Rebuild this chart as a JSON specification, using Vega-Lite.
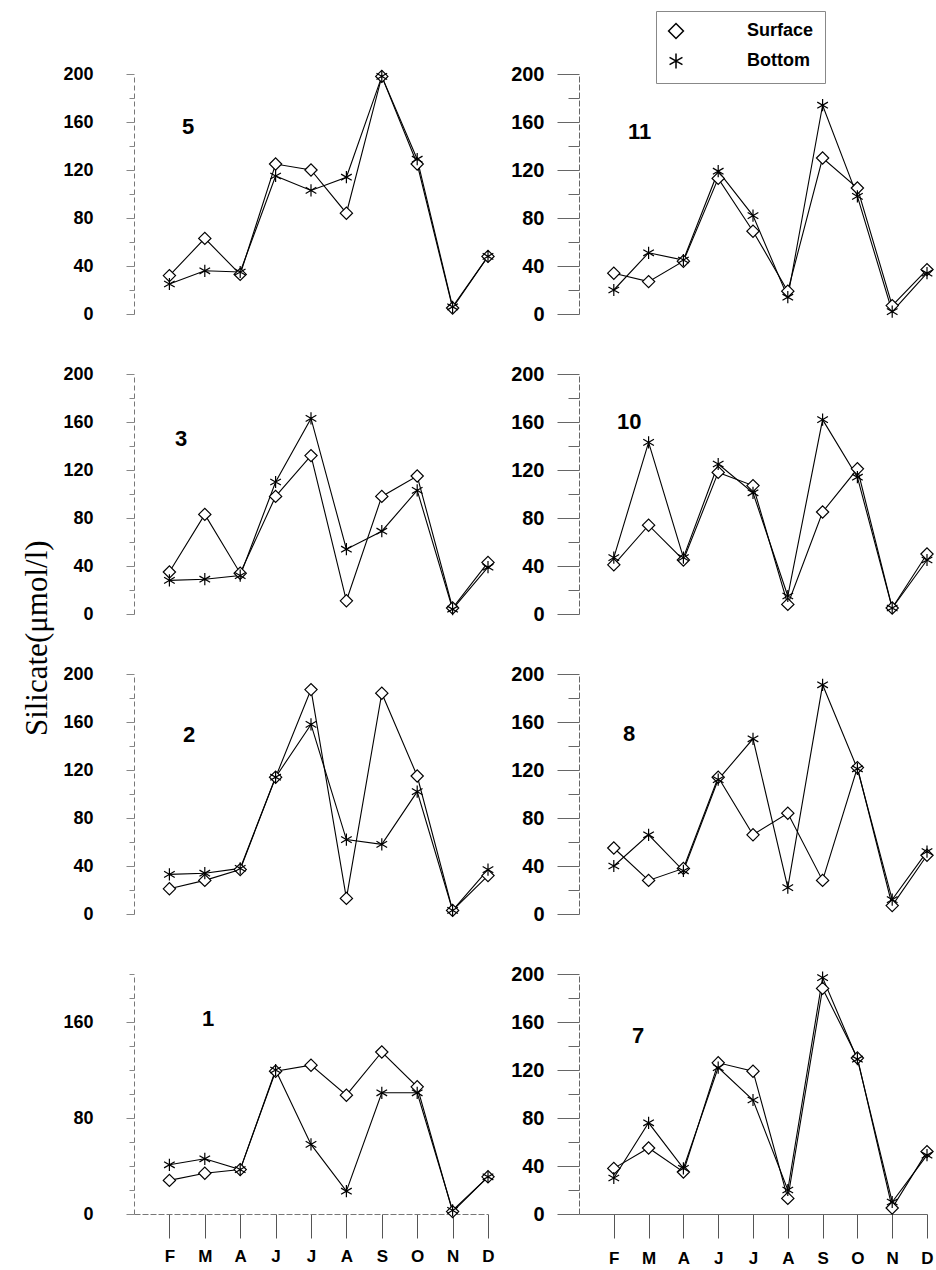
{
  "$schema": "https://vega.github.io/schema/vega-lite/v6.json",
  "padding": {"left": 21, "top": 10, "right": 0, "bottom": 0},
  "background": "white",
  "title": {"text": "Silicate(μmol/l)", "orient": "left", "anchor": "middle", "frame": "bounds", "font": "Liberation Serif", "fontSize": 31, "fontWeight": "normal", "offset": -22, "baseline": "bottom", "dx": 0, "dy": 0, "color": "black"},
  "config": {
    "view": {"stroke": null},
    "title": {"anchor": "start", "frame": "group", "font": "Liberation Sans", "fontSize": 22, "fontWeight": "bold", "baseline": "top", "offset": 0, "color": "black"},
    "axis": {"labelFont": "Liberation Sans", "labelFontWeight": "bold", "labelColor": "black", "grid": false, "title": null},
    "legend": {"labelFont": "Liberation Sans", "labelFontWeight": "bold", "labelColor": "black"}
  },
  "data": {"values": [
    {"station":"5","month":"Feb","depth":"Surface","value":32},{"station":"5","month":"Mar","depth":"Surface","value":63},{"station":"5","month":"Apr","depth":"Surface","value":33},{"station":"5","month":"Jun","depth":"Surface","value":125},{"station":"5","month":"Jul","depth":"Surface","value":120},{"station":"5","month":"Aug","depth":"Surface","value":84},{"station":"5","month":"Sep","depth":"Surface","value":198},{"station":"5","month":"Oct","depth":"Surface","value":125},{"station":"5","month":"Nov","depth":"Surface","value":5},{"station":"5","month":"Dec","depth":"Surface","value":48},
    {"station":"11","month":"Feb","depth":"Surface","value":34},{"station":"11","month":"Mar","depth":"Surface","value":27},{"station":"11","month":"Apr","depth":"Surface","value":44},{"station":"11","month":"Jun","depth":"Surface","value":113},{"station":"11","month":"Jul","depth":"Surface","value":69},{"station":"11","month":"Aug","depth":"Surface","value":19},{"station":"11","month":"Sep","depth":"Surface","value":130},{"station":"11","month":"Oct","depth":"Surface","value":105},{"station":"11","month":"Nov","depth":"Surface","value":7},{"station":"11","month":"Dec","depth":"Surface","value":37},
    {"station":"3","month":"Feb","depth":"Surface","value":35},{"station":"3","month":"Mar","depth":"Surface","value":83},{"station":"3","month":"Apr","depth":"Surface","value":34},{"station":"3","month":"Jun","depth":"Surface","value":98},{"station":"3","month":"Jul","depth":"Surface","value":132},{"station":"3","month":"Aug","depth":"Surface","value":11},{"station":"3","month":"Sep","depth":"Surface","value":98},{"station":"3","month":"Oct","depth":"Surface","value":115},{"station":"3","month":"Nov","depth":"Surface","value":5},{"station":"3","month":"Dec","depth":"Surface","value":43},
    {"station":"10","month":"Feb","depth":"Surface","value":41},{"station":"10","month":"Mar","depth":"Surface","value":74},{"station":"10","month":"Apr","depth":"Surface","value":45},{"station":"10","month":"Jun","depth":"Surface","value":118},{"station":"10","month":"Jul","depth":"Surface","value":107},{"station":"10","month":"Aug","depth":"Surface","value":8},{"station":"10","month":"Sep","depth":"Surface","value":85},{"station":"10","month":"Oct","depth":"Surface","value":121},{"station":"10","month":"Nov","depth":"Surface","value":5},{"station":"10","month":"Dec","depth":"Surface","value":50},
    {"station":"2","month":"Feb","depth":"Surface","value":21},{"station":"2","month":"Mar","depth":"Surface","value":28},{"station":"2","month":"Apr","depth":"Surface","value":37},{"station":"2","month":"Jun","depth":"Surface","value":114},{"station":"2","month":"Jul","depth":"Surface","value":187},{"station":"2","month":"Aug","depth":"Surface","value":13},{"station":"2","month":"Sep","depth":"Surface","value":184},{"station":"2","month":"Oct","depth":"Surface","value":115},{"station":"2","month":"Nov","depth":"Surface","value":3},{"station":"2","month":"Dec","depth":"Surface","value":32},
    {"station":"8","month":"Feb","depth":"Surface","value":55},{"station":"8","month":"Mar","depth":"Surface","value":28},{"station":"8","month":"Apr","depth":"Surface","value":38},{"station":"8","month":"Jun","depth":"Surface","value":114},{"station":"8","month":"Jul","depth":"Surface","value":66},{"station":"8","month":"Aug","depth":"Surface","value":84},{"station":"8","month":"Sep","depth":"Surface","value":28},{"station":"8","month":"Oct","depth":"Surface","value":122},{"station":"8","month":"Nov","depth":"Surface","value":7},{"station":"8","month":"Dec","depth":"Surface","value":49},
    {"station":"1","month":"Feb","depth":"Surface","value":28},{"station":"1","month":"Mar","depth":"Surface","value":34},{"station":"1","month":"Apr","depth":"Surface","value":37},{"station":"1","month":"Jun","depth":"Surface","value":119},{"station":"1","month":"Jul","depth":"Surface","value":124},{"station":"1","month":"Aug","depth":"Surface","value":99},{"station":"1","month":"Sep","depth":"Surface","value":135},{"station":"1","month":"Oct","depth":"Surface","value":106},{"station":"1","month":"Nov","depth":"Surface","value":2},{"station":"1","month":"Dec","depth":"Surface","value":31},
    {"station":"7","month":"Feb","depth":"Surface","value":38},{"station":"7","month":"Mar","depth":"Surface","value":55},{"station":"7","month":"Apr","depth":"Surface","value":35},{"station":"7","month":"Jun","depth":"Surface","value":126},{"station":"7","month":"Jul","depth":"Surface","value":119},{"station":"7","month":"Aug","depth":"Surface","value":13},{"station":"7","month":"Sep","depth":"Surface","value":188},{"station":"7","month":"Oct","depth":"Surface","value":130},{"station":"7","month":"Nov","depth":"Surface","value":5},{"station":"7","month":"Dec","depth":"Surface","value":52},
    {"station":"5","month":"Feb","depth":"Bottom","value":25},{"station":"5","month":"Mar","depth":"Bottom","value":36},{"station":"5","month":"Apr","depth":"Bottom","value":35},{"station":"5","month":"Jun","depth":"Bottom","value":115},{"station":"5","month":"Jul","depth":"Bottom","value":103},{"station":"5","month":"Aug","depth":"Bottom","value":114},{"station":"5","month":"Sep","depth":"Bottom","value":198},{"station":"5","month":"Oct","depth":"Bottom","value":129},{"station":"5","month":"Nov","depth":"Bottom","value":6},{"station":"5","month":"Dec","depth":"Bottom","value":48},
    {"station":"11","month":"Feb","depth":"Bottom","value":20},{"station":"11","month":"Mar","depth":"Bottom","value":51},{"station":"11","month":"Apr","depth":"Bottom","value":45},{"station":"11","month":"Jun","depth":"Bottom","value":119},{"station":"11","month":"Jul","depth":"Bottom","value":82},{"station":"11","month":"Aug","depth":"Bottom","value":14},{"station":"11","month":"Sep","depth":"Bottom","value":174},{"station":"11","month":"Oct","depth":"Bottom","value":98},{"station":"11","month":"Nov","depth":"Bottom","value":2},{"station":"11","month":"Dec","depth":"Bottom","value":34},
    {"station":"3","month":"Feb","depth":"Bottom","value":28},{"station":"3","month":"Mar","depth":"Bottom","value":29},{"station":"3","month":"Apr","depth":"Bottom","value":32},{"station":"3","month":"Jun","depth":"Bottom","value":110},{"station":"3","month":"Jul","depth":"Bottom","value":163},{"station":"3","month":"Aug","depth":"Bottom","value":54},{"station":"3","month":"Sep","depth":"Bottom","value":69},{"station":"3","month":"Oct","depth":"Bottom","value":103},{"station":"3","month":"Nov","depth":"Bottom","value":4},{"station":"3","month":"Dec","depth":"Bottom","value":39},
    {"station":"10","month":"Feb","depth":"Bottom","value":47},{"station":"10","month":"Mar","depth":"Bottom","value":143},{"station":"10","month":"Apr","depth":"Bottom","value":47},{"station":"10","month":"Jun","depth":"Bottom","value":125},{"station":"10","month":"Jul","depth":"Bottom","value":101},{"station":"10","month":"Aug","depth":"Bottom","value":15},{"station":"10","month":"Sep","depth":"Bottom","value":162},{"station":"10","month":"Oct","depth":"Bottom","value":114},{"station":"10","month":"Nov","depth":"Bottom","value":5},{"station":"10","month":"Dec","depth":"Bottom","value":45},
    {"station":"2","month":"Feb","depth":"Bottom","value":33},{"station":"2","month":"Mar","depth":"Bottom","value":34},{"station":"2","month":"Apr","depth":"Bottom","value":38},{"station":"2","month":"Jun","depth":"Bottom","value":114},{"station":"2","month":"Jul","depth":"Bottom","value":158},{"station":"2","month":"Aug","depth":"Bottom","value":62},{"station":"2","month":"Sep","depth":"Bottom","value":58},{"station":"2","month":"Oct","depth":"Bottom","value":102},{"station":"2","month":"Nov","depth":"Bottom","value":3},{"station":"2","month":"Dec","depth":"Bottom","value":37},
    {"station":"8","month":"Feb","depth":"Bottom","value":40},{"station":"8","month":"Mar","depth":"Bottom","value":66},{"station":"8","month":"Apr","depth":"Bottom","value":36},{"station":"8","month":"Jun","depth":"Bottom","value":112},{"station":"8","month":"Jul","depth":"Bottom","value":146},{"station":"8","month":"Aug","depth":"Bottom","value":22},{"station":"8","month":"Sep","depth":"Bottom","value":191},{"station":"8","month":"Oct","depth":"Bottom","value":121},{"station":"8","month":"Nov","depth":"Bottom","value":12},{"station":"8","month":"Dec","depth":"Bottom","value":52},
    {"station":"1","month":"Feb","depth":"Bottom","value":41},{"station":"1","month":"Mar","depth":"Bottom","value":46},{"station":"1","month":"Apr","depth":"Bottom","value":37},{"station":"1","month":"Jun","depth":"Bottom","value":120},{"station":"1","month":"Jul","depth":"Bottom","value":58},{"station":"1","month":"Aug","depth":"Bottom","value":19},{"station":"1","month":"Sep","depth":"Bottom","value":101},{"station":"1","month":"Oct","depth":"Bottom","value":101},{"station":"1","month":"Nov","depth":"Bottom","value":3},{"station":"1","month":"Dec","depth":"Bottom","value":31},
    {"station":"7","month":"Feb","depth":"Bottom","value":30},{"station":"7","month":"Mar","depth":"Bottom","value":76},{"station":"7","month":"Apr","depth":"Bottom","value":38},{"station":"7","month":"Jun","depth":"Bottom","value":122},{"station":"7","month":"Jul","depth":"Bottom","value":95},{"station":"7","month":"Aug","depth":"Bottom","value":20},{"station":"7","month":"Sep","depth":"Bottom","value":197},{"station":"7","month":"Oct","depth":"Bottom","value":129},{"station":"7","month":"Nov","depth":"Bottom","value":10},{"station":"7","month":"Dec","depth":"Bottom","value":49}
  ]},
  "columns": 2,
  "spacing": {"row": 60, "column": 91},
  "bounds": "flush",
  "concat": [
    {
      "width": 354, "height": 240,
      "title": {"text": "5", "dx": 48, "dy": 78},
      "transform": [{"filter": "datum.station === '5'"}],
      "encoding": {
        "x": {"field": "month", "type": "ordinal", "scale": {"domain": ["Feb","Mar","Apr","Jun","Jul","Aug","Sep","Oct","Nov","Dec"], "padding": 0.5, "align": 1}, "axis": null},
        "y": {"field": "value", "type": "quantitative", "scale": {"domain": [0, 200]}, "axis": {"values": [0,20,40,60,80,100,120,140,160,180,200], "labelExpr": "datum.value % 40 === 0 ? datum.label : ''", "tickSize": {"condition": {"test": "datum.value % 40 === 0", "value": 8}, "value": 5}, "labelPadding": 33, "labelFontSize": 18, "domainColor": "#777", "domainDash": [5, 3], "tickColor": "#888"}}
      },
      "layer": [
        {"mark": {"type": "line", "color": "black", "strokeWidth": 1.1}, "encoding": {"detail": {"field": "depth"}, "order": {"value": null}}},
        {"mark": {"type": "point", "filled": true, "fill": "white", "stroke": "black", "strokeWidth": 1.2, "opacity": 1, "size": 150}, "encoding": {"shape": {"field": "depth", "type": "nominal", "scale": {"domain": ["Surface","Bottom"], "range": ["diamond", "M0,-1L0,1M-0.87,-0.5L0.87,0.5M-0.87,0.5L0.87,-0.5"]}, "legend": {"title": null, "orient": "none", "legendX": 522, "legendY": -63, "direction": "vertical", "labelFontSize": 18, "symbolSize": 220, "labelOffset": 62, "rowPadding": 8, "padding": 11, "strokeColor": "#888", "encode": {"legend": {"update": {"strokeDash": {"value": [6, 3]}}}, "symbols": {"update": {"fill": {"value": "white"}, "stroke": {"value": "black"}, "strokeWidth": {"value": 1.2}, "opacity": {"value": 1}}}}}}}}
      ]
    },
    {
      "width": 348, "height": 240,
      "title": {"text": "11", "dx": 49, "dy": 84},
      "transform": [{"filter": "datum.station === '11'"}],
      "encoding": {
        "x": {"field": "month", "type": "ordinal", "scale": {"domain": ["Feb","Mar","Apr","Jun","Jul","Aug","Sep","Oct","Nov","Dec"], "padding": 0.5, "align": 1}, "axis": null},
        "y": {"field": "value", "type": "quantitative", "scale": {"domain": [0, 200]}, "axis": {"values": [0,20,40,60,80,100,120,140,160,180,200], "labelExpr": "datum.value % 40 === 0 ? datum.label : ''", "tickSize": {"condition": {"test": "datum.value % 40 === 0", "value": 22}, "value": 11}, "labelPadding": 13, "labelFontSize": 20, "domainColor": "#666", "domainDash": [6, 2], "tickColor": "#666"}}
      },
      "layer": [
        {"mark": {"type": "line", "color": "black", "strokeWidth": 1.1}, "encoding": {"detail": {"field": "depth"}, "order": {"value": null}}},
        {"mark": {"type": "point", "filled": true, "fill": "white", "stroke": "black", "strokeWidth": 1.2, "opacity": 1, "size": 150}, "encoding": {"shape": {"field": "depth", "type": "nominal"}}}
      ]
    },
    {
      "width": 354, "height": 240,
      "title": {"text": "3", "dx": 41, "dy": 90},
      "transform": [{"filter": "datum.station === '3'"}],
      "encoding": {
        "x": {"field": "month", "type": "ordinal", "scale": {"domain": ["Feb","Mar","Apr","Jun","Jul","Aug","Sep","Oct","Nov","Dec"], "padding": 0.5, "align": 1}, "axis": null},
        "y": {"field": "value", "type": "quantitative", "scale": {"domain": [0, 200]}, "axis": {"values": [0,20,40,60,80,100,120,140,160,180,200], "labelExpr": "datum.value % 40 === 0 ? datum.label : ''", "tickSize": {"condition": {"test": "datum.value % 40 === 0", "value": 8}, "value": 5}, "labelPadding": 33, "labelFontSize": 18, "domainColor": "#777", "domainDash": [5, 3], "tickColor": "#888"}}
      },
      "layer": [
        {"mark": {"type": "line", "color": "black", "strokeWidth": 1.1}, "encoding": {"detail": {"field": "depth"}, "order": {"value": null}}},
        {"mark": {"type": "point", "filled": true, "fill": "white", "stroke": "black", "strokeWidth": 1.2, "opacity": 1, "size": 150}, "encoding": {"shape": {"field": "depth", "type": "nominal"}}}
      ]
    },
    {
      "width": 348, "height": 240,
      "title": {"text": "10", "dx": 38, "dy": 74},
      "transform": [{"filter": "datum.station === '10'"}],
      "encoding": {
        "x": {"field": "month", "type": "ordinal", "scale": {"domain": ["Feb","Mar","Apr","Jun","Jul","Aug","Sep","Oct","Nov","Dec"], "padding": 0.5, "align": 1}, "axis": null},
        "y": {"field": "value", "type": "quantitative", "scale": {"domain": [0, 200]}, "axis": {"values": [0,20,40,60,80,100,120,140,160,180,200], "labelExpr": "datum.value % 40 === 0 ? datum.label : ''", "tickSize": {"condition": {"test": "datum.value % 40 === 0", "value": 22}, "value": 11}, "labelPadding": 13, "labelFontSize": 20, "domainColor": "#666", "domainDash": [6, 2], "tickColor": "#666"}}
      },
      "layer": [
        {"mark": {"type": "line", "color": "black", "strokeWidth": 1.1}, "encoding": {"detail": {"field": "depth"}, "order": {"value": null}}},
        {"mark": {"type": "point", "filled": true, "fill": "white", "stroke": "black", "strokeWidth": 1.2, "opacity": 1, "size": 150}, "encoding": {"shape": {"field": "depth", "type": "nominal"}}}
      ]
    },
    {
      "width": 354, "height": 240,
      "title": {"text": "2", "dx": 49, "dy": 86},
      "transform": [{"filter": "datum.station === '2'"}],
      "encoding": {
        "x": {"field": "month", "type": "ordinal", "scale": {"domain": ["Feb","Mar","Apr","Jun","Jul","Aug","Sep","Oct","Nov","Dec"], "padding": 0.5, "align": 1}, "axis": null},
        "y": {"field": "value", "type": "quantitative", "scale": {"domain": [0, 200]}, "axis": {"values": [0,20,40,60,80,100,120,140,160,180,200], "labelExpr": "datum.value % 40 === 0 ? datum.label : ''", "tickSize": {"condition": {"test": "datum.value % 40 === 0", "value": 8}, "value": 5}, "labelPadding": 33, "labelFontSize": 18, "domainColor": "#777", "domainDash": [5, 3], "tickColor": "#888"}}
      },
      "layer": [
        {"mark": {"type": "line", "color": "black", "strokeWidth": 1.1}, "encoding": {"detail": {"field": "depth"}, "order": {"value": null}}},
        {"mark": {"type": "point", "filled": true, "fill": "white", "stroke": "black", "strokeWidth": 1.2, "opacity": 1, "size": 150}, "encoding": {"shape": {"field": "depth", "type": "nominal"}}}
      ]
    },
    {
      "width": 348, "height": 240,
      "title": {"text": "8", "dx": 44, "dy": 86},
      "transform": [{"filter": "datum.station === '8'"}],
      "encoding": {
        "x": {"field": "month", "type": "ordinal", "scale": {"domain": ["Feb","Mar","Apr","Jun","Jul","Aug","Sep","Oct","Nov","Dec"], "padding": 0.5, "align": 1}, "axis": null},
        "y": {"field": "value", "type": "quantitative", "scale": {"domain": [0, 200]}, "axis": {"values": [0,20,40,60,80,100,120,140,160,180,200], "labelExpr": "datum.value % 40 === 0 ? datum.label : ''", "tickSize": {"condition": {"test": "datum.value % 40 === 0", "value": 22}, "value": 11}, "labelPadding": 13, "labelFontSize": 20, "domainColor": "#666", "domainDash": [6, 2], "tickColor": "#666"}}
      },
      "layer": [
        {"mark": {"type": "line", "color": "black", "strokeWidth": 1.1}, "encoding": {"detail": {"field": "depth"}, "order": {"value": null}}},
        {"mark": {"type": "point", "filled": true, "fill": "white", "stroke": "black", "strokeWidth": 1.2, "opacity": 1, "size": 150}, "encoding": {"shape": {"field": "depth", "type": "nominal"}}}
      ]
    },
    {
      "width": 354, "height": 240,
      "title": {"text": "1", "dx": 68, "dy": 61},
      "transform": [{"filter": "datum.station === '1'"}],
      "encoding": {
        "x": {"field": "month", "type": "ordinal", "scale": {"domain": ["Feb","Mar","Apr","Jun","Jul","Aug","Sep","Oct","Nov","Dec"], "padding": 0.5, "align": 1}, "axis": {"labelExpr": "substring(datum.label, 0, 1)", "labelAngle": 0, "labelFontSize": 17, "tickSize": 24, "labelPadding": 10, "domainColor": "#777", "domainDash": [6, 2], "tickColor": "#555"}},
        "y": {"field": "value", "type": "quantitative", "scale": {"domain": [0, 200]}, "axis": {"values": [0,20,40,60,80,100,120,140,160,180,200], "labelExpr": "datum.value % 80 === 0 ? datum.label : ''", "tickSize": {"condition": {"test": "datum.value % 80 === 0", "value": 8}, "value": 5}, "labelPadding": 33, "labelFontSize": 18, "domainColor": "#777", "domainDash": [5, 3], "tickColor": "#888"}}
      },
      "layer": [
        {"mark": {"type": "line", "color": "black", "strokeWidth": 1.1}, "encoding": {"detail": {"field": "depth"}, "order": {"value": null}}},
        {"mark": {"type": "point", "filled": true, "fill": "white", "stroke": "black", "strokeWidth": 1.2, "opacity": 1, "size": 150}, "encoding": {"shape": {"field": "depth", "type": "nominal"}}}
      ]
    },
    {
      "width": 348, "height": 240,
      "title": {"text": "7", "dx": 53, "dy": 88},
      "transform": [{"filter": "datum.station === '7'"}],
      "encoding": {
        "x": {"field": "month", "type": "ordinal", "scale": {"domain": ["Feb","Mar","Apr","Jun","Jul","Aug","Sep","Oct","Nov","Dec"], "padding": 0.5, "align": 1}, "axis": {"labelExpr": "substring(datum.label, 0, 1)", "labelAngle": 0, "labelFontSize": 17, "tickSize": 24, "labelPadding": 12, "domainColor": "#666", "tickColor": "#555"}},
        "y": {"field": "value", "type": "quantitative", "scale": {"domain": [0, 200]}, "axis": {"values": [0,20,40,60,80,100,120,140,160,180,200], "labelExpr": "datum.value % 40 === 0 ? datum.label : ''", "tickSize": {"condition": {"test": "datum.value % 40 === 0", "value": 22}, "value": 11}, "labelPadding": 13, "labelFontSize": 20, "domainColor": "#666", "domainDash": [6, 2], "tickColor": "#666"}}
      },
      "layer": [
        {"mark": {"type": "line", "color": "black", "strokeWidth": 1.1}, "encoding": {"detail": {"field": "depth"}, "order": {"value": null}}},
        {"mark": {"type": "point", "filled": true, "fill": "white", "stroke": "black", "strokeWidth": 1.2, "opacity": 1, "size": 150}, "encoding": {"shape": {"field": "depth", "type": "nominal"}}}
      ]
    }
  ]
}
